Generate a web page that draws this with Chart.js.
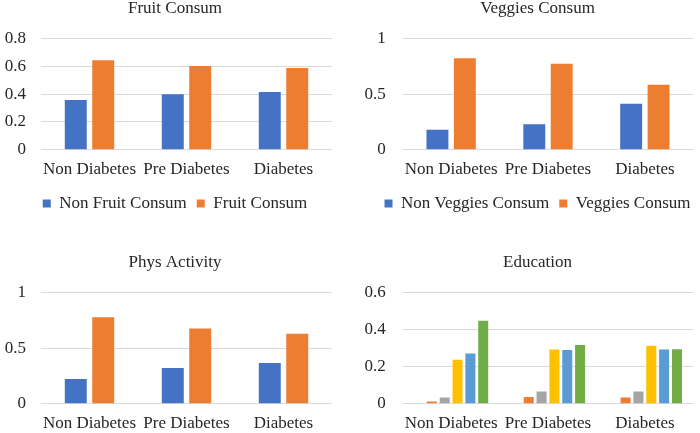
<!DOCTYPE html>
<html>
<head>
<meta charset="utf-8">
<script src="https://cdn.jsdelivr.net/npm/chart.js@4.4.1/dist/chart.umd.min.js"></script>
<style>
  html, body { margin: 0; padding: 0; background: #ffffff; overflow: hidden; width: 700px; height: 433px; }
  canvas { position: absolute; }
</style>
</head>
<body>
<canvas id="c1" width="350" height="222" style="left:0px;top:0px;width:350px;height:222px"></canvas>
<canvas id="c2" width="375" height="222" style="left:350px;top:0px;width:375px;height:222px"></canvas>
<canvas id="c3" width="350" height="179" style="left:0px;top:254px;width:350px;height:179px"></canvas>
<canvas id="c4" width="375" height="179" style="left:350px;top:254px;width:375px;height:179px"></canvas>
<script>
// ---- data ----
const categories = ['Non Diabetes', 'Pre Diabetes', 'Diabetes'];

const fruitTitle = 'Fruit Consum';
const fruitLabels = ['Non Fruit Consum', 'Fruit Consum'];
const fruitNon = [0.358, 0.399, 0.416];
const fruitYes = [0.644, 0.603, 0.589];
const fruitTicks = { max: 0.8, step: 0.2 };

const veggiesTitle = 'Veggies Consum';
const veggiesLabels = ['Non Veggies Consum', 'Veggies Consum'];
const veggiesNon = [0.180, 0.230, 0.414];
const veggiesYes = [0.823, 0.775, 0.586];
const veggiesTicks = { max: 1, step: 0.5 };

const physTitle = 'Phys Activity';
const physLabels = ['Non Phys Activity', 'Phys Activity'];
const physNon = [0.222, 0.321, 0.366];
const physYes = [0.778, 0.678, 0.631];
const physTicks = { max: 1, step: 0.5 };

const eduTitle = 'Education';
const eduLabels = ['Education 1', 'Education 2', 'Education 3', 'Education 4', 'Education 5', 'Education 6'];
const edu1 = [0, 0, 0];
const edu2 = [0.012, 0.036, 0.034];
const edu3 = [0.034, 0.066, 0.066];
const edu4 = [0.238, 0.293, 0.313];
const edu5 = [0.272, 0.290, 0.293];
const edu6 = [0.449, 0.317, 0.295];
const eduTicks = { max: 0.6, step: 0.2 };

// ---- styling ----
const COLORS = ['#4472C4', '#ED7D31', '#A5A5A5', '#FFC000', '#5B9BD5', '#70AD47'];
const FONT = "'Liberation Serif', 'Times New Roman', serif";
const TEXT = '#262626';
const GRID = '#D9D9D9';

Chart.defaults.font.family = FONT;
Chart.defaults.font.size = 17;
Chart.defaults.color = TEXT;

function makeChart(id, title, labels, series, ticks, opt) {
  const datasets = series.map((data, i) => ({
    label: labels[i],
    data: data,
    backgroundColor: COLORS[opt.colorOffset + i],
    borderWidth: 0,
    categoryPercentage: opt.cp,
    barPercentage: opt.bp
  }));
  return new Chart(document.getElementById(id), {
    type: 'bar',
    data: { labels: categories, datasets: datasets },
    options: {
      responsive: false,
      devicePixelRatio: 1,
      animation: false,
      layout: { padding: 0 },
      plugins: {
        title: {
          display: true,
          text: title,
          color: TEXT,
          font: { size: 17, weight: 'normal', lineHeight: 1 },
          padding: { top: 0, bottom: 21.7 }
        },
        legend: {
          display: opt.legend,
          position: 'bottom',
          labels: { boxWidth: 8, boxHeight: 8, padding: 10, color: TEXT, font: { size: 17 } }
        },
        tooltip: { enabled: false }
      },
      scales: {
        x: {
          grid: { display: false, drawTicks: false },
          border: { display: false },
          ticks: { padding: 10, maxRotation: 0, autoSkip: false, color: TEXT, font: { size: 17 } },
          afterFit: s => { s.height = opt.xh; }
        },
        y: {
          min: 0,
          max: ticks.max,
          grid: { color: GRID, lineWidth: 1, drawTicks: false },
          border: { display: false },
          ticks: {
            stepSize: ticks.step, padding: opt.tp, color: TEXT, font: { size: 17 },
            callback: v => String(Math.round(v * 100) / 100)
          },
          afterFit: s => { s.width = opt.yw; }
        },
        yr: {
          type: 'linear',
          position: 'right',
          display: true,
          grid: { display: false, drawTicks: false },
          border: { display: false },
          ticks: { display: false },
          afterFit: s => { s.width = opt.rw; }
        }
      }
    }
  });
}

makeChart('c1', fruitTitle, fruitLabels, [fruitNon, fruitYes], fruitTicks,
  { colorOffset: 0, cp: 0.566, bp: 0.8, legend: true, xh: 35.3, yw: 41, rw: 18, tp: 15 });
makeChart('c2', veggiesTitle, veggiesLabels, [veggiesNon, veggiesYes], veggiesTicks,
  { colorOffset: 0, cp: 0.566, bp: 0.8, legend: true, xh: 35.3, yw: 52.7, rw: 31.7, tp: 17 });
makeChart('c3', physTitle, physLabels, [physNon, physYes], physTicks,
  { colorOffset: 0, cp: 0.566, bp: 0.8, legend: false, xh: 29.3, yw: 41, rw: 18, tp: 15 });
makeChart('c4', eduTitle, eduLabels, [edu1, edu2, edu3, edu4, edu5, edu6], eduTicks,
  { colorOffset: 0, cp: 0.795, bp: 0.78, legend: false, xh: 29.3, yw: 52.7, rw: 31.7, tp: 17 });
</script>
</body>
</html>
